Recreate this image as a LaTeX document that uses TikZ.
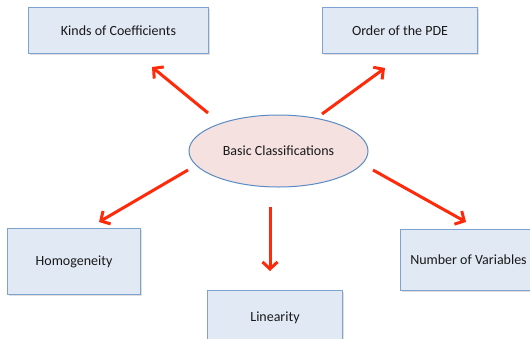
\documentclass[tikz,border=0pt]{standalone}
\usepackage{fontspec}
\setmainfont{Carlito}
\usetikzlibrary{arrows.meta,shapes.geometric,shadows}
\definecolor{boxfill}{HTML}{E1E9F4}
\definecolor{boxline}{HTML}{7EA3D0}
\definecolor{ellfill}{HTML}{F4E1E0}
\definecolor{ellline}{HTML}{5B8BC5}
\definecolor{arrowred}{HTML}{FF2A0A}
\tikzset{
  catbox/.style={draw=boxline, fill=boxfill, line width=1pt, anchor=north west, inner sep=0pt,
    font=\fontsize{14}{16}\selectfont, text=black!90,
    drop shadow={shadow xshift=1pt, shadow yshift=-1.5pt, opacity=0.25, fill=black!50}},
  hub/.style={ellipse, draw=ellline, fill=ellfill, line width=1pt, inner sep=0pt,
    minimum width=179pt, minimum height=72pt, font=\fontsize{14}{16}\selectfont, text=black!90},
  redarrow/.style={draw=arrowred, line width=3pt, -{Straight Barb[length=7pt,width=15pt,line width=3pt]}}
}
\begin{document}
\begin{tikzpicture}[x=1pt,y=-1pt]
\useasboundingbox (0,0) rectangle (530,338);
\clip (0,0) rectangle (530,338);
\fill[white] (0,0) rectangle (530,338);
\node[catbox, minimum width=180pt, minimum height=46pt] (kinds) at (28,7) {Kinds of Coefficients};
\node[catbox, minimum width=155pt, minimum height=46pt] (order) at (322,7) {Order of the PDE};
\node[catbox, minimum width=133pt, minimum height=66pt] (homog) at (7,228) {Homogeneity};
\node[catbox, minimum width=135pt, minimum height=54pt] (linear) at (207,290) {Linearity};
\node[catbox, minimum width=136pt, minimum height=61pt] (numvar) at (400,229) {Number of Variables};
\node[hub] (basic) at (278.5,151) {Basic Classifications};
\coordinate (a1s) at (208,113); \coordinate (a1e) at (152,67);
\coordinate (a2s) at (322,114); \coordinate (a2e) at (385,68);
\coordinate (a3s) at (188,170); \coordinate (a3e) at (99,222);
\coordinate (a4s) at (270,207); \coordinate (a4e) at (270,271);
\coordinate (a5s) at (373,170); \coordinate (a5e) at (466,222);
\draw[redarrow] (a1s) -- (a1e);
\draw[redarrow] (a2s) -- (a2e);
\draw[redarrow] (a3s) -- (a3e);
\draw[redarrow] (a4s) -- (a4e);
\draw[redarrow] (a5s) -- (a5e);
\end{tikzpicture}
\end{document}
